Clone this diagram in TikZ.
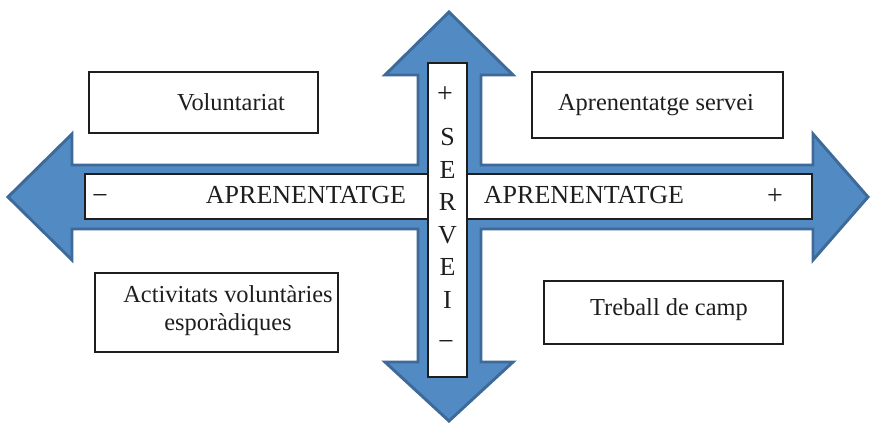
\documentclass[tikz,border=0pt]{standalone}
\usepackage{fontspec}
\setmainfont{Liberation Serif}
\usepackage{tikz}

\definecolor{arrowblue}{RGB}{82,138,196}
\definecolor{arrowedge}{RGB}{62,106,154}
\definecolor{inkgray}{RGB}{30,30,30}

\tikzset{
	boxtext/.style={font=\fontsize{18.3}{21}\selectfont, text=inkgray, align=center, inner sep=0pt},
	captext/.style={font=\fontsize{19.5}{22}\selectfont, text=inkgray, inner sep=0pt},
	signtext/.style={font=\fontsize{21}{24}\selectfont, text=inkgray, inner sep=0pt},
	whitebox/.style={draw=inkgray, fill=white, line width=1pt}
}

\begin{document}
\begin{tikzpicture}[x=0.75pt,y=-0.75pt]
		\useasboundingbox (0,0) rectangle (872,423);
		% the two crossing arrows as one outline
		\draw[fill=arrowblue, draw=arrowedge, line width=2.2pt, line join=miter]
			(449,12) -- (513,75) -- (481,75) -- (481,165) -- (813,165) -- (813,134)
			-- (868,197) -- (813,260) -- (813,229) -- (481,229) -- (481,362)
			-- (513,362) -- (449,421) -- (385,362) -- (418,362) -- (418,229)
			-- (72,229) -- (72,260) -- (8,197) -- (72,134) -- (72,165)
			-- (418,165) -- (418,75) -- (385,75) -- cycle;
		% strips inside the shafts
		\draw[whitebox] (85,174) rectangle (812,219);
		\draw[whitebox] (428,63) rectangle (467,377);
		\node[signtext] (minusL) at (100,200) {−};
		\node[captext] (aprenL) at (306,195) {APRENENTATGE};
		\node[captext] (aprenR) at (584,195) {APRENENTATGE};
		\node[signtext] (plusR) at (775,197) {+};
		\node[signtext] (plusT) at (445,95) {+};
		\foreach \ch [count=\i from 0] in {S,E,R,V,E,I}{
			\node[captext] (serv\i) at (447.5,137+32.6*\i) {\ch};
		}
		\node[signtext] (minusB) at (446,346) {−};
		% the four quadrant boxes
		\draw[whitebox] (89,72) rectangle (318,133);
		\node[boxtext] (volunt) at (231,102) {Voluntariat};
		\draw[whitebox] (532,72) rectangle (783,138);
		\node[boxtext] (apserv) at (656,105) {Aprenentatge servei};
		\draw[whitebox] (95,273) rectangle (338,352);
		\node[boxtext] (activ) at (228,311) {Activitats voluntàries\\esporàdiques};
		\draw[whitebox] (544,281) rectangle (783,344);
		\node[boxtext] (camp) at (669,310) {Treball de camp};
		\end{tikzpicture}
\end{document}
